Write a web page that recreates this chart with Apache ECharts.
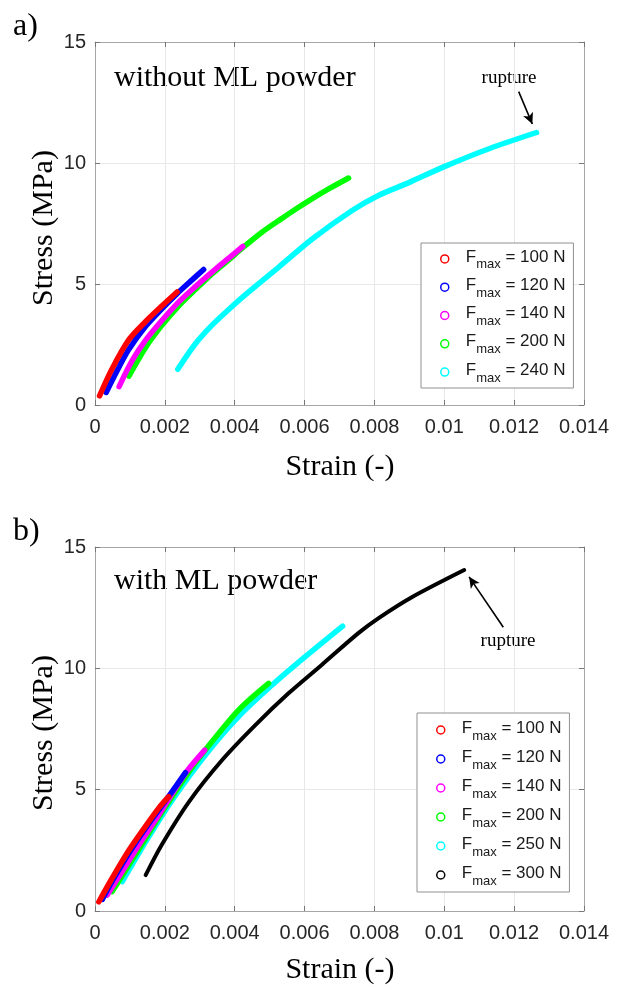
<!DOCTYPE html>
<html><head><meta charset="utf-8">
<script src="https://cdn.jsdelivr.net/npm/echarts@6/dist/echarts.min.js"></script>
<style>html,body{margin:0;padding:0;background:#fff}#c{width:617px;height:992px}</style>
</head><body><div id="c"></div>
<script>
// ---- tick labels ----
const xTickLabels = ['0','0.002','0.004','0.006','0.008','0.01','0.012','0.014'];
const yTickLabels = ['0','5','10','15'];

// ---- panel a) without ML powder ----
const forcesA = [100, 120, 140, 200, 240];
const colorsA = ['#ff0000', '#0000ff', '#ff00ff', '#00ff00', '#00ffff'];
const a100 = [[0.00013,0.38],[0.00049,1.5],[0.00097,2.7],[0.00145,3.45],[0.00192,4.1],[0.00235,4.67]];
const a120 = [[0.00032,0.52],[0.0007,1.6],[0.00097,2.3],[0.00145,3.25],[0.00192,3.98],[0.00235,4.6],[0.00278,5.17],[0.00311,5.6]];
const a140 = [[0.00069,0.76],[0.00107,1.85],[0.00145,2.68],[0.00192,3.5],[0.0024,4.26],[0.00288,4.9],[0.00335,5.49],[0.00383,6.07],[0.00423,6.55]];
const a200 = [[0.00097,1.19],[0.00145,2.38],[0.00192,3.3],[0.0024,4.1],[0.00288,4.78],[0.00335,5.42],[0.00383,6.0],[0.00423,6.5],[0.00478,7.14],[0.00526,7.62],[0.00573,8.08],[0.00621,8.52],[0.00669,8.93],[0.00726,9.38]];
const a240 = [[0.00237,1.48],[0.00288,2.54],[0.00335,3.3],[0.00383,3.95],[0.0043,4.55],[0.00526,5.7],[0.00621,6.85],[0.00735,8.03],[0.0081,8.65],[0.009,9.2],[0.01,9.85],[0.0113,10.6],[0.01264,11.26]];
const seriesA = [a100, a120, a140, a200, a240];
const ruptureArrowA = [[0.01213, 12.95], [0.01252, 11.61]];

// ---- panel b) with ML powder ----
const forcesB = [100, 120, 140, 200, 250, 300];
const colorsB = ['#ff0000', '#0000ff', '#ff00ff', '#00ff00', '#00ffff', '#000000'];
const b100 = [[0.00011,0.38],[0.00049,1.35],[0.00097,2.5],[0.00145,3.5],[0.00183,4.25],[0.00211,4.71]];
const b120 = [[0.00021,0.48],[0.0005,1.25],[0.001,2.45],[0.0015,3.52],[0.00211,4.72],[0.00259,5.7]];
const b140 = [[0.00035,0.66],[0.0007,1.45],[0.0012,2.6],[0.0018,3.9],[0.00259,5.68],[0.00314,6.63]];
const b200 = [[0.00049,0.8],[0.0008,1.5],[0.0013,2.65],[0.002,4.25],[0.0026,5.55],[0.00314,6.6],[0.00411,8.28],[0.00497,9.38]];
const b250 = [[0.00078,1.21],[0.00145,2.85],[0.00221,4.57],[0.00316,6.43],[0.00411,8.01],[0.00507,9.31],[0.00602,10.48],[0.00709,11.74]];
const b300 = [[0.00145,1.48],[0.00192,2.75],[0.00269,4.5],[0.00364,6.22],[0.00459,7.66],[0.00554,8.97],[0.00649,10.14],[0.00754,11.45],[0.00811,12.06],[0.00907,12.93],[0.01057,14.05]];
const seriesB = [b100, b120, b140, b200, b250, b300];
const ruptureArrowB = [[0.01169, 11.69], [0.01071, 13.77]];

const SANS = '"Liberation Sans", Arial, sans-serif';
const SERIF = '"Liberation Serif", "Times New Roman", serif';

function xAxes(g) {
  return [{
    type: 'value', gridIndex: g, min: 0, max: 0.014, interval: 0.002,
    axisLine: { show: true, onZero: false, lineStyle: { color: '#a6a6a6', width: 1 } },
    axisTick: { show: true, inside: true, length: 5, lineStyle: { color: '#777' } },
    axisLabel: { show: true, fontSize: 20, fontFamily: SANS, color: '#262626', margin: 12,
      showMinLabel: true, showMaxLabel: true,
      formatter: v => xTickLabels[Math.round(v / 0.002)] },
    splitLine: { show: true, lineStyle: { color: '#e8e8e8', width: 1 } }
  }, {
    type: 'value', gridIndex: g, position: 'top', min: 0, max: 0.014, interval: 0.002,
    axisLine: { show: true, onZero: false, lineStyle: { color: '#a6a6a6', width: 1 } },
    axisTick: { show: true, inside: true, length: 5, lineStyle: { color: '#777' } },
    axisLabel: { show: false }, splitLine: { show: false }
  }];
}
function yAxes(g) {
  return [{
    type: 'value', gridIndex: g, min: 0, max: 15, interval: 5,
    axisLine: { show: true, onZero: false, lineStyle: { color: '#a6a6a6', width: 1 } },
    axisTick: { show: true, inside: true, length: 5, lineStyle: { color: '#777' } },
    axisLabel: { show: true, fontSize: 20, fontFamily: SANS, color: '#262626', margin: 9,
      showMinLabel: true, showMaxLabel: true,
      formatter: v => yTickLabels[Math.round(v / 5)] },
    splitLine: { show: true, lineStyle: { color: '#e8e8e8', width: 1 } }
  }, {
    type: 'value', gridIndex: g, position: 'right', min: 0, max: 15, interval: 5,
    axisLine: { show: true, onZero: false, lineStyle: { color: '#a6a6a6', width: 1 } },
    axisTick: { show: true, inside: true, length: 5, lineStyle: { color: '#777' } },
    axisLabel: { show: false }, splitLine: { show: false }
  }];
}

function makeSeries(prefix, forces, colors, datas, axisIdx, arrow, arrowIdx, widths) {
  const out = [];
  for (let i = forces.length - 1; i >= 0; i--) {
    const s = {
      name: prefix + '|' + forces[i], type: 'line',
      xAxisIndex: axisIdx, yAxisIndex: axisIdx,
      data: datas[i], smooth: 0.3,
      showSymbol: false, symbol: 'none',
      lineStyle: { color: colors[i], width: widths[i], cap: 'round', join: 'round' },
      itemStyle: { color: colors[i] },
      emphasis: { disabled: true }, silent: true
    };
    if (i === arrowIdx) {
      s.markLine = {
        silent: true, animation: false,
        symbol: ['none', 'arrow'], symbolSize: [8, 11],
        lineStyle: { color: '#000', width: 1.6, type: 'solid' },
        label: { show: false },
        emphasis: { disabled: true },
        data: [[{ coord: arrow[0] }, { coord: arrow[1] }]]
      };
    }
    out.push(s);
  }
  return out;
}

const richStyle = {
  f: { fontSize: 17, fontFamily: SANS, color: '#1a1a1a', lineHeight: 20, padding: [1, 0, 5, 12] },
  s: { fontSize: 13, fontFamily: SANS, color: '#1a1a1a', lineHeight: 14, padding: [12, 0, 0, 0] },
  t: { fontSize: 17, fontFamily: SANS, color: '#1a1a1a', lineHeight: 20, padding: [1, 0, 5, 0] }
};
function makeLegend(prefix, forces, colors, left, top, gap, padV) {
  return {
    orient: 'vertical', left: left, top: top,
    itemWidth: 8, itemHeight: 8, itemGap: gap,
    padding: [padV, 8, padV, 19],
    backgroundColor: '#ffffff', borderColor: '#909090', borderWidth: 1, borderRadius: 0,
    selectedMode: false, icon: 'circle',
    data: forces.map((f, i) => ({
      name: prefix + '|' + f, icon: 'circle',
      itemStyle: { color: 'rgba(255,255,255,0)', borderColor: colors[i], borderWidth: 1.5 }
    })),
    formatter: name => '{f|F}{s|max}{t| = ' + name.split('|')[1] + ' N}',
    textStyle: { rich: richStyle }
  };
}

function txt(x, y, text, size, opts) {
  return Object.assign({
    type: 'text', x: x, y: y, silent: true,
    style: Object.assign({ text: text, fontSize: size, fontFamily: SERIF, fill: '#000',
      align: 'left', verticalAlign: 'middle' }, (opts && opts.style) || {})
  }, opts && opts.rotation !== undefined ? { rotation: opts.rotation } : {});
}

const chart = echarts.init(document.getElementById('c'), null, { renderer: 'canvas' });
chart.setOption({
  animation: false,
  backgroundColor: '#ffffff',
  grid: [
    { left: 95, top: 42, width: 489, height: 363, show: false },
    { left: 95, top: 547, width: 489, height: 364, show: false }
  ],
  xAxis: xAxes(0).concat(xAxes(1)),
  yAxis: yAxes(0).concat(yAxes(1)),
  legend: [
    makeLegend('a', forcesA, colorsA, 421, 243, 3.3, 3.4),
    makeLegend('b', forcesB, colorsB, 417, 713, 4, 4.5)
  ],
  series: makeSeries('a', forcesA, colorsA, seriesA, 0, ruptureArrowA, 4, [5.5,5.5,5.5,5.5,5.5])
    .concat(makeSeries('b', forcesB, colorsB, seriesB, 2, ruptureArrowB, 5, [5.5,5.5,5.5,5.5,5.5,4])),
  graphic: [
    txt(13, 27, 'a)', 32),
    txt(114, 78, 'without ML powder', 30),
    txt(509, 78, 'rupture', 19, { style: { align: 'center' } }),
    txt(44, 228, 'Stress (MPa)', 30, { rotation: Math.PI / 2, style: { align: 'center' } }),
    txt(340, 467, 'Strain (-)', 30, { style: { align: 'center' } }),
    txt(13, 532, 'b)', 32),
    txt(114, 581, 'with ML powder', 30),
    txt(508, 641, 'rupture', 19, { style: { align: 'center' } }),
    txt(44, 733, 'Stress (MPa)', 30, { rotation: Math.PI / 2, style: { align: 'center' } }),
    txt(340, 970, 'Strain (-)', 30, { style: { align: 'center' } })
  ]
});
</script>
</body></html>
